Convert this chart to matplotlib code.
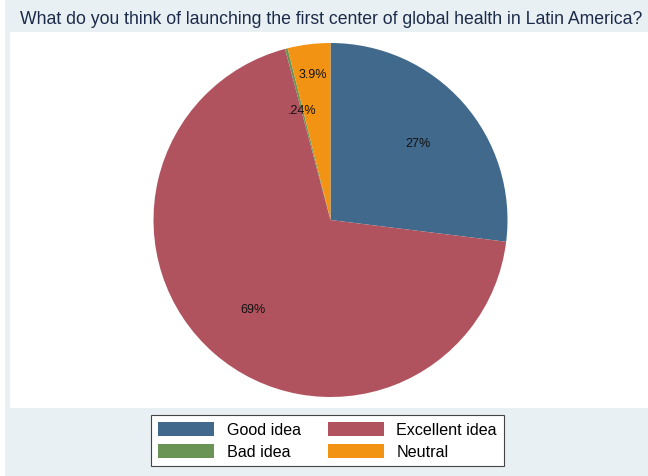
import matplotlib
matplotlib.use("Agg")
import matplotlib.pyplot as plt
from matplotlib.patches import Rectangle, Patch
import numpy as np

# Survey responses (percent of respondents)
categories = ["Good idea", "Excellent idea", "Bad idea", "Neutral"]
shares = [27, 69, 0.24, 3.9]
colors = ["#41698b", "#b0535e", "#6a9455", "#f39313"]
title = "What do you think of launching the first center of global health in Latin America?"
# legend filled row by row: Good / Excellent, then Bad / Neutral
legend_columns = [["Good idea", "Bad idea"], ["Excellent idea", "Neutral"]]


def pct_label(v):
    s = f"{v:g}"
    if s.startswith("0."):
        s = s[1:]
    return s + "%"


# radial position of each slice label (fraction of radius)
label_radius = [0.66, 0.67, 0.64, 0.83]

W, H = 648, 477
fig = plt.figure(figsize=(W / 100, H / 100), dpi=100)
fig.patch.set_facecolor("white")

# outer graph region and inner plot region
fig.add_artist(Rectangle((5 / W, 0), 1, 1, transform=fig.transFigure,
                         facecolor="#e8f0f3", edgecolor="none", zorder=0))
fig.add_artist(Rectangle((10 / W, (H - 409) / H), 1, (409 - 33) / H,
                         transform=fig.transFigure, facecolor="white",
                         edgecolor="none", zorder=0))

fig.text(20 / W, 1 - 20 / H, title, ha="left", va="center",
         fontsize=12.7, color="#1c2b4a", family="Liberation Sans")

# pie axes: centre (330, 221) px, radius 177 px
cx, cy, r = 330.5, 221, 177
ax = fig.add_axes([(cx - r) / W, (H - cy - r) / H, 2 * r / W, 2 * r / H])

wedges, _ = ax.pie(shares, colors=colors, startangle=90, counterclock=False,
                   radius=1, wedgeprops=dict(linewidth=0))
ax.set_xlim(-1, 1)
ax.set_ylim(-1, 1)
ax.set_aspect("equal")
ax.axis("off")

for w, v, lr in zip(wedges, shares, label_radius):
    ang = np.deg2rad((w.theta1 + w.theta2) / 2)
    ax.text(lr * np.cos(ang), lr * np.sin(ang), pct_label(v),
            ha="center", va="center", fontsize=9, color="#111111",
            family="Liberation Sans")

order = [name for col in legend_columns for name in col]
handles = [Patch(facecolor=colors[categories.index(c)], edgecolor="none")
           for c in order]
leg = fig.legend(handles, order, ncol=2, loc="center",
                 bbox_to_anchor=(327.5 / W, 1 - 441.5 / H),
                 prop=dict(family="Liberation Sans", size=11.6),
                 handlelength=3.5, handleheight=1.0, handletextpad=0.75,
                 columnspacing=1.7, labelspacing=0.38, borderpad=0.42,
                 fancybox=False, framealpha=1, edgecolor="#444444")
leg.get_frame().set_linewidth(0.8)

fig.savefig("out.png", dpi=100)
